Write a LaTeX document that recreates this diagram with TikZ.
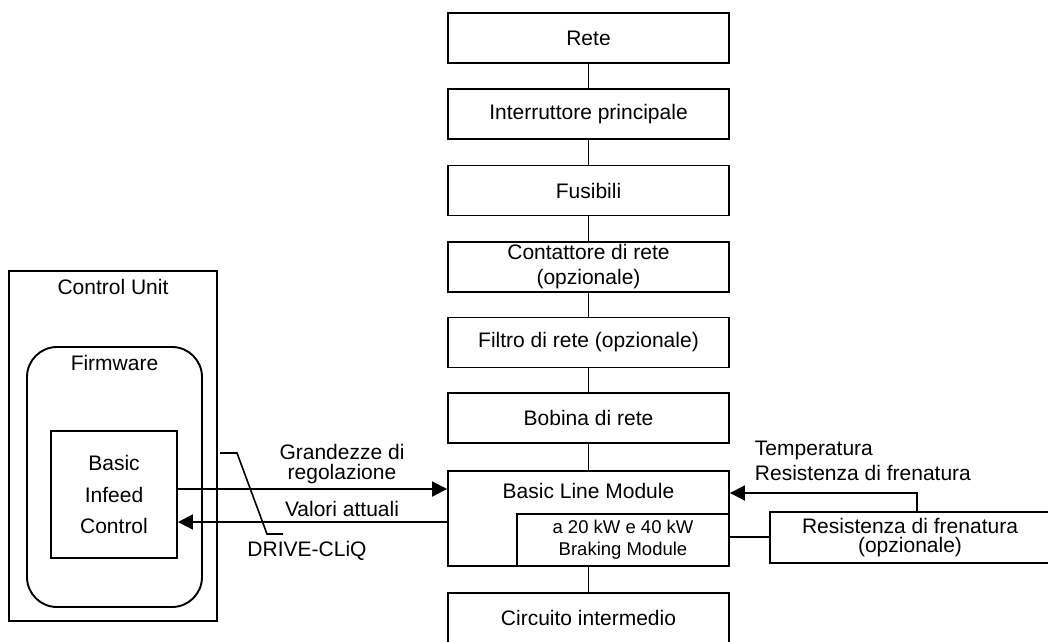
\documentclass[tikz,border=0pt]{standalone}
\usepackage{fontspec}
\setmainfont{Liberation Sans}
\usetikzlibrary{arrows.meta}
\begin{document}
\begin{tikzpicture}[x=1pt,y=-1pt,
  line width=1.9pt,
  every node/.style={font=\fontsize{21}{25}\selectfont, inner sep=0pt},
  mainbox/.style={draw, rectangle, minimum width=281pt, minimum height=50pt, align=center},
  arr/.style={-{Triangle[length=15pt,width=15pt]}},
]
\useasboundingbox (0,0) rectangle (1048,641);

% main column
\node[mainbox] (rete)  at (588.5,38)  {Rete};
\node[mainbox] (inter) at (588.5,114) {Interruttore principale};
\node[mainbox] (fus)   at (588.5,190.5) {Fusibili};
\node[mainbox] (cont)  at (588.5,267) {Contattore di rete\\(opzionale)};
\node[mainbox] (filt)  at (588.5,342.5) {Filtro di rete (opzionale)};
\node[mainbox] (bob)   at (588.5,418) {Bobina di rete};
\node[mainbox, minimum height=95pt] (blm) at (588.5,518.5) {};
\node (blmtext) at (588.5,491) {Basic Line Module};
\node[draw, rectangle, minimum width=212pt, minimum height=52pt, align=center,
      font=\fontsize{18.5}{22}\selectfont] (brake) at (623,540) {a 20 kW e 40 kW\\Braking Module};
\node[mainbox] (circ)  at (588.5,618) {Circuito intermedio};

\draw (rete) -- (inter);
\draw (inter) -- (fus);
\draw (fus) -- (cont);
\draw (cont) -- (filt);
\draw (filt) -- (bob);
\draw (bob) -- (blm);
\draw (blm.south) -- (circ.north);

% control unit
\node[draw, rectangle, minimum width=208pt, minimum height=350pt] (cu) at (113,446) {};
\node (cutext) at (113,287) {Control Unit};
\node[draw, rectangle, rounded corners=30pt, minimum width=175pt, minimum height=260pt] (fw) at (114.5,477) {};
\node (fwtext) at (114.5,363) {Firmware};
\node[draw, rectangle, minimum width=126pt, minimum height=127pt, align=center,
      font=\fontsize{21}{31.5}\selectfont] (bic) at (114,494.5) {Basic\\Infeed\\Control};

% braking resistor
\node[draw, rectangle, minimum width=280pt, minimum height=51pt, align=center,
      font=\fontsize{21}{19}\selectfont] (res) at (910,537.5) {Resistenza di frenatura\\(opzionale)};

% connectors
\draw[arr] (bic.east |- 0,489) -- (blm.west |- 0,489);
\draw[arr] (blm.west |- 0,522) -- (bic.east |- 0,522);
\draw[arr] (res.north -| 917,0) -- (917,493) -- (blm.east |- 0,493);
\draw (brake.east |- 0,537) -- (res.west |- 0,537);

% labels
\node[align=center, font=\fontsize{21}{20}\selectfont] (gr) at (342,464) {Grandezze di\\regolazione};
\node (va) at (342,509) {Valori attuali};
\node (dc) at (307,551) {DRIVE-CLiQ};
\node[align=left, anchor=west] (temp) at (754,461) {Temperatura\\Resistenza di frenatura};

% DRIVE-CLiQ pointer
\coordinate (d1) at (220,453);
\coordinate (d2) at (237,453);
\coordinate (d3) at (267,534);
\coordinate (d4) at (283,534);
\draw[line width=1.6pt] (d1) -- (d2) -- (d3) -- (d4);
\end{tikzpicture}
\end{document}
